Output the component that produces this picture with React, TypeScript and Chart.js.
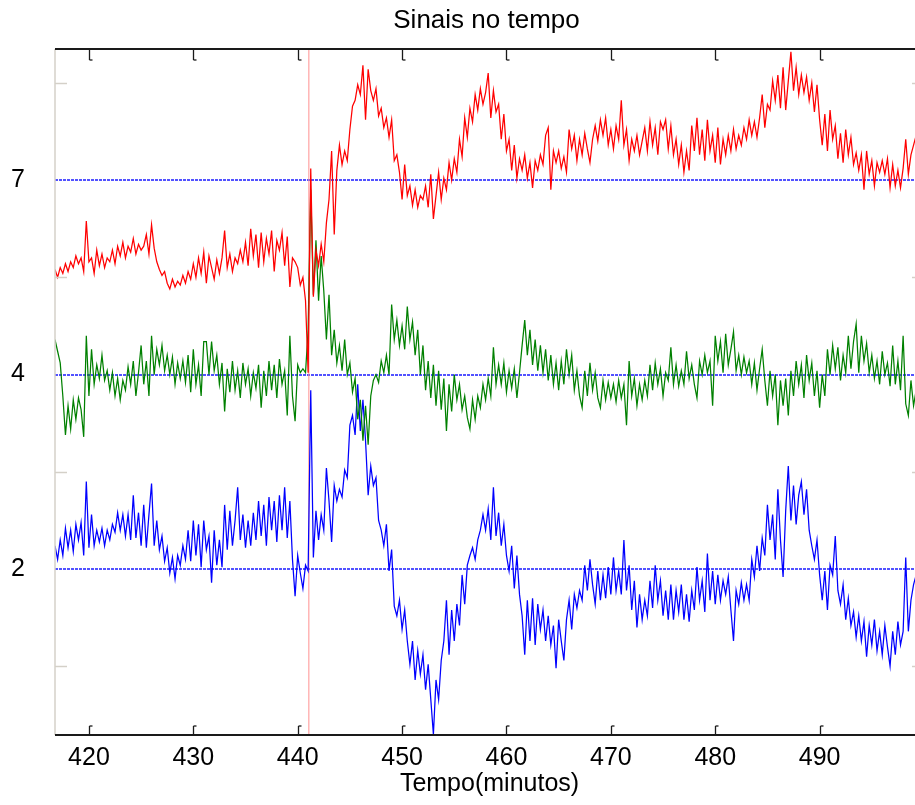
import React, { useEffect, useRef } from "react";
import { Chart, registerables } from "chart.js";

Chart.register(...registerables);

// ---- data ----
const TITLE = "Sinais no tempo";
const X_LABEL = "Tempo(minutos)";
const T0 = 416.75; // first sample time (minutes)
const DT = 0.25; // sampling interval (minutes)
const xMin = 416.75;
const xMax = 500;
const yMin = 0.147;
const yMax = 3.674;
const xTicks = [420, 430, 440, 450, 460, 470, 480, 490];
const yTickValues = [1, 2, 3];
const yTickLabels = ["2", "4", "7"];
const yMinorTicks = [0.5, 1.5, 2.5, 3.5];
const eventTime = 441.07;

const red = [
  2.54, 2.50, 2.55, 2.52, 2.57, 2.53, 2.58, 2.55, 2.61, 2.57, 2.60, 2.53,
  2.79, 2.58, 2.60, 2.52, 2.64, 2.56, 2.62, 2.55, 2.60,
  2.58, 2.64, 2.57, 2.66, 2.61, 2.68, 2.60, 2.66, 2.63, 2.70, 2.62, 2.67, 2.64,
  2.66, 2.72, 2.62, 2.77, 2.65, 2.58, 2.54, 2.51, 2.53,
  2.47, 2.44, 2.49, 2.45, 2.48, 2.46, 2.51, 2.47,
  2.53, 2.49, 2.57, 2.50, 2.60, 2.52, 2.63, 2.47, 2.61, 2.55, 2.49,
  2.59, 2.52, 2.60, 2.74, 2.55, 2.62, 2.53, 2.60, 2.57, 2.64,
  2.58, 2.68, 2.56, 2.75, 2.61,
  2.72, 2.55, 2.73, 2.58, 2.70, 2.62, 2.74, 2.53, 2.69, 2.64, 2.73, 2.56, 2.71, 2.45, 2.60, 2.58,
  2.55, 2.46, 2.50, 2.38, 2.01, 3.06, 2.40,
  2.64, 2.56, 2.67, 2.58, 2.78, 2.90, 3.15, 2.72, 3.05, 3.18,
  3.08, 3.15, 3.10, 3.26, 3.38, 3.41, 3.49, 3.44, 3.59, 3.31,
  3.57, 3.46, 3.41, 3.47, 3.33, 3.37, 3.27, 3.32, 3.22, 3.31,
  3.10, 3.13, 3.04, 2.90, 3.08, 2.92, 2.97, 2.87, 2.95, 2.86,
  2.92, 2.90, 2.97, 2.86, 3.03, 2.80, 2.92, 3.04, 2.90, 3.01,
  2.95, 3.09, 3.00, 3.11, 3.04, 3.21, 3.12, 3.32, 3.22, 3.37,
  3.30, 3.44, 3.36, 3.47, 3.39, 3.45, 3.55, 3.32, 3.46, 3.35,
  3.39, 3.21, 3.34, 3.15, 3.21, 3.05, 3.18, 3.01, 3.11, 3.05,
  3.13, 3.01, 3.09, 2.96, 3.10, 3.05, 3.13, 3.08, 3.23, 3.27,
  2.95, 3.15, 3.09, 3.15, 3.06, 3.12, 3.04, 3.26, 3.16, 3.23,
  3.10, 3.21, 3.13, 3.24, 3.16, 3.09, 3.21, 3.28, 3.20, 3.31,
  3.23, 3.32, 3.18, 3.26, 3.16, 3.28, 3.21, 3.41, 3.18, 3.26,
  3.10, 3.21, 3.15, 3.23, 3.13, 3.20, 3.27, 3.15, 3.30, 3.18,
  3.27, 3.13, 3.30, 3.26, 3.31, 3.16, 3.28, 3.13, 3.21, 3.08,
  3.18, 3.04, 3.15, 3.05, 3.28, 3.15, 3.32, 3.13, 3.26, 3.10,
  3.31, 3.15, 3.23, 3.09, 3.27, 3.08, 3.21, 3.13, 3.23, 3.15,
  3.26, 3.16, 3.23, 3.18, 3.27, 3.21, 3.31, 3.23, 3.30, 3.22,
  3.32, 3.44, 3.27, 3.39, 3.36, 3.51, 3.41, 3.54, 3.37, 3.58,
  3.36, 3.51, 3.66, 3.46, 3.58, 3.44, 3.54, 3.45, 3.53, 3.41,
  3.50, 3.35, 3.49, 3.31, 3.18, 3.34, 3.15, 3.36, 3.21, 3.28,
  3.11, 3.24, 3.09, 3.26, 3.13, 3.22, 3.08, 3.14, 3.05, 3.13,
  2.95, 3.15, 3.03, 3.10, 2.97, 3.09, 3.04, 3.10, 3.03, 3.11,
  2.96, 3.08, 2.97, 3.05, 2.96, 3.06, 3.21, 3.03, 3.13, 3.18,
  3.23, 3.20, 3.25, 3.22,
];

const green = [
  2.18, 2.12, 2.06, 1.89, 1.69, 1.84, 1.72, 1.87, 1.77, 1.88, 1.82, 1.68,
  2.20, 1.89, 2.13, 1.95, 2.05, 1.98, 2.10, 1.97, 2.02, 1.92,
  2.01, 1.89, 1.98, 1.87, 1.97, 1.92, 2.04, 1.95, 2.07, 1.89,
  2.01, 2.15, 1.95, 2.07, 1.89, 2.20, 2.00, 2.13, 2.05, 2.15,
  2.02, 2.10, 2.00, 2.09, 1.95, 2.06, 1.98, 2.07, 1.96, 2.10,
  1.91, 2.13, 1.95, 2.05, 1.89, 2.17,
  2.17, 2.00, 2.17, 2.02, 2.10, 1.95, 2.06, 1.81, 2.03, 1.91,
  2.07, 1.92, 2.02, 1.88, 2.06, 1.95, 2.03, 1.89, 2.01, 1.93,
  2.05, 1.83, 2.02, 1.89, 2.07, 1.92, 2.05, 1.88, 2.08, 1.95,
  2.02, 1.79, 2.20, 1.89, 1.76, 2.05, 2.01, 2.03,
  2.01, 2.23, 2.95, 2.41,
  2.69, 2.38, 2.61, 2.43, 2.18, 2.41, 2.10, 2.23, 2.06, 2.15,
  2.02, 2.18, 2.00, 2.06, 1.91, 1.98, 1.77, 1.87, 1.66, 1.84,
  1.64, 1.89, 1.97, 2.00, 1.96, 2.07, 2.01, 2.10, 2.00, 2.36,
  2.18, 2.28, 2.15, 2.25, 2.13, 2.35, 2.18, 2.27, 2.10, 2.23,
  2.00, 2.15, 1.92, 2.07, 1.88, 2.05, 1.84, 2.02, 1.82, 1.98,
  1.71, 1.95, 1.81, 2.00, 1.87, 1.95, 1.82, 1.89, 1.78, 1.72,
  1.87, 1.77, 1.89, 1.83, 1.95, 1.87, 1.98, 1.89, 2.14, 1.95,
  2.05, 1.95, 2.06, 1.91, 2.02, 1.93, 2.03, 1.88, 2.01, 2.15,
  2.28, 2.10, 2.23, 2.05, 2.18, 2.02, 2.15, 2.01, 2.13, 1.97,
  2.10, 1.95, 2.06, 1.92, 2.07, 1.95, 2.13, 2.00, 2.10, 1.92,
  2.02, 1.89, 1.83, 2.02, 1.89, 2.06, 1.92, 2.01, 1.88, 1.83,
  1.97, 1.87, 1.96, 1.88, 1.95, 1.86, 1.97, 1.88, 1.95, 1.74,
  2.07, 1.89, 1.98, 1.84, 1.95, 1.87, 1.97, 1.89, 2.05, 1.92,
  2.06, 1.95, 2.03, 1.89, 2.01, 1.97, 2.14, 1.95, 2.05, 1.94,
  2.02, 1.95, 2.12, 1.98, 2.05, 1.95, 1.88, 2.07, 2.00, 2.10,
  2.01, 2.07, 1.84, 2.20, 2.07, 2.17, 2.01, 2.21, 2.05, 2.13,
  2.22, 2.02, 2.10, 2.00, 2.09, 2.01, 2.07, 1.95, 2.06, 1.92,
  2.03, 2.13, 1.97, 1.84, 2.02, 1.89, 2.00, 1.74, 1.97, 1.84,
  1.98, 1.79, 2.02, 1.89, 2.07, 1.95, 2.05, 1.88, 2.10, 1.97,
  2.06, 1.89, 2.02, 1.83, 2.00, 1.89, 2.13, 2.00, 2.15, 2.03,
  2.14, 1.97, 2.10, 2.01, 2.20, 2.03, 2.17, 2.26, 2.01, 2.20,
  2.07, 2.16, 2.01, 2.10, 1.98, 2.07, 1.95, 2.12, 2.00, 2.06,
  1.94, 2.15, 1.95, 2.07, 1.92, 2.20, 1.85, 1.79, 1.97, 1.84,
  1.92, 1.88, 1.95, 1.90,
];

const blue = [
  1.12, 1.05, 1.15, 1.07, 1.21, 1.11, 1.20, 1.09, 1.23, 1.15, 1.24, 1.07,
  1.45, 1.11, 1.28, 1.12, 1.20, 1.14, 1.21, 1.12, 1.20, 1.15,
  1.23, 1.19, 1.29, 1.20, 1.28, 1.17, 1.28, 1.15, 1.38, 1.16,
  1.29, 1.12, 1.33, 1.11, 1.28, 1.44, 1.12, 1.25, 1.10, 1.17,
  1.04, 1.11, 0.98, 1.06, 0.95, 1.07, 1.02, 1.12, 1.05, 1.20,
  1.04, 1.25, 1.07, 1.23, 1.01, 1.25, 1.10, 1.17, 0.93, 1.20,
  1.02, 1.15, 1.01, 1.33, 1.10, 1.30, 1.12, 1.25, 1.42, 1.15,
  1.28, 1.11, 1.25, 1.12, 1.29, 1.15, 1.35, 1.17, 1.33, 1.12,
  1.37, 1.20, 1.35, 1.14, 1.38, 1.20, 1.42, 1.16, 1.35, 1.05,
  0.86, 1.07, 0.98, 0.90, 1.02,
  0.99, 1.92, 1.06,
  1.30, 1.15, 1.28, 1.20, 1.52, 1.35, 1.14, 1.43, 1.35, 1.41,
  1.37, 1.51, 1.47, 1.74, 1.79, 1.69, 1.95, 1.71, 1.87, 1.66,
  1.38, 1.53, 1.43, 1.47, 1.25, 1.20, 1.12, 1.23, 0.99, 1.10,
  0.81, 0.76, 0.84, 0.69, 0.79, 0.63, 0.51, 0.63, 0.43, 0.58,
  0.46, 0.56, 0.38, 0.51, 0.33, 0.15, 0.43, 0.33, 0.53, 0.63,
  0.84, 0.56, 0.79, 0.63, 0.82, 0.71, 0.97, 0.82, 1.02, 1.07,
  1.11, 1.05, 1.15, 1.20, 1.28, 1.20, 1.31, 1.15, 1.42, 1.17,
  1.29, 1.12, 1.23, 1.07, 0.99, 1.12, 0.90, 1.07, 0.87, 0.76,
  0.56, 0.84, 0.63, 0.85, 0.61, 0.82, 0.69, 0.79, 0.63, 0.76,
  0.61, 0.71, 0.49, 0.74, 0.63, 0.53, 0.74, 0.84, 0.69, 0.87,
  0.80, 0.89, 0.84, 1.02, 0.89, 1.05, 0.92, 0.82, 0.99, 0.84,
  0.97, 0.85, 1.01, 0.87, 1.06, 0.89, 0.99, 0.87, 1.15, 0.89,
  1.02, 0.79, 0.94, 0.70, 0.87, 0.74, 0.84, 0.76, 0.94, 0.80,
  1.02, 0.84, 0.94, 0.76, 0.89, 0.74, 0.92, 0.74, 0.89, 0.78,
  0.92, 0.74, 0.87, 0.73, 0.89, 0.79, 1.01, 0.84, 0.94, 0.78,
  1.08, 0.84, 0.99, 0.82, 0.97, 0.84, 0.94, 0.87, 0.96, 0.79,
  0.63, 0.89, 0.82, 0.93, 0.84, 0.92, 0.84, 1.05, 0.96, 1.12,
  0.99, 1.16, 1.07, 1.33, 1.15, 1.28, 1.05, 1.41, 1.15, 0.96,
  1.30, 1.53, 1.25, 1.43, 1.23, 1.38, 1.45, 1.28, 1.41, 1.20,
  1.12, 1.05, 1.15, 0.97, 0.84, 0.99, 0.79, 1.02, 0.97, 1.17,
  0.89, 0.82, 0.92, 0.74, 0.85, 0.71, 0.78, 0.65, 0.76, 0.63,
  0.73, 0.55, 0.71, 0.61, 0.74, 0.58, 0.68, 0.56, 0.71, 0.60,
  0.50, 0.68, 0.56, 0.73, 0.61, 0.68, 1.06, 0.68, 0.84, 0.92,
  0.97, 0.95, 1.00, 0.96,
];

const FONT = '"Liberation Sans", Arial, Helvetica, sans-serif';

const framePlugin = {
  id: "matlabFrame",
  beforeDatasetsDraw(chart: any) {
    const { ctx, chartArea, scales } = chart;
    const { left, right } = chartArea;
    ctx.save();
    ctx.strokeStyle = "#1a1aff";
    ctx.lineWidth = 1.5;
    ctx.setLineDash([3, 1]);
    for (const v of yTickValues) {
      const py = Math.round(scales.y.getPixelForValue(v));
      ctx.beginPath();
      ctx.moveTo(left, py);
      ctx.lineTo(right, py);
      ctx.stroke();
    }
    ctx.restore();
  },
  afterDraw(chart: any) {
    const { ctx, chartArea, scales } = chart;
    const { left, right, top, bottom } = chartArea;
    const line = (x1: number, y1: number, x2: number, y2: number) => {
      ctx.beginPath();
      ctx.moveTo(x1, y1);
      ctx.lineTo(x2, y2);
      ctx.stroke();
    };
    ctx.save();
    // left axis (light grey)
    ctx.strokeStyle = "#d4d0c8";
    ctx.lineWidth = 1.5;
    line(left, top, left, bottom);
    // minor y ticks (grey, pointing inward) on both sides
    for (const v of yMinorTicks) {
      const py = Math.round(scales.y.getPixelForValue(v)) + 0.5;
      line(left, py, left + 12, py);
      line(right, py, right - 12, py);
    }
    // top and bottom frame lines
    ctx.strokeStyle = "#1a1a1a";
    ctx.lineWidth = 2;
    line(left, top, right, top);
    line(left, bottom, right, bottom);
    // x ticks, inward
    ctx.lineWidth = 1.3;
    for (const t of xTicks) {
      const px = Math.round(scales.x.getPixelForValue(t)) + 0.5;
      line(px, top, px, top + 11);
      line(px, top + 11, px + 3, top + 11);
      line(px, bottom, px, bottom - 9);
      line(px, bottom - 9, px + 3, bottom - 9);
    }
    // title
    ctx.fillStyle = "#000";
    ctx.font = `26px ${FONT}`;
    ctx.textAlign = "center";
    ctx.textBaseline = "middle";
    ctx.fillText(TITLE, (left + right) / 2 - 3, 21);
    ctx.restore();
  },
};

export default function App() {
  const ref = useRef<HTMLCanvasElement>(null);

  useEffect(() => {
    const canvas = ref.current;
    if (!canvas) return;
    Chart.defaults.font.family = FONT;
    const toPts = (vals: number[]) => vals.map((v, i) => ({ x: T0 + i * DT, y: v }));
    const lineDs = (label: string, vals: number[], color: string) => ({
      label,
      data: toPts(vals),
      borderColor: color,
      backgroundColor: color,
      borderWidth: 1.25,
      pointRadius: 0,
      tension: 0,
      fill: false,
    });
    const chart = new Chart(canvas, {
      type: "line",
      data: {
        datasets: [
          lineDs("7", red, "#ff0000"),
          lineDs("4", green, "#008000"),
          lineDs("2", blue, "#0000ff"),
          {
            label: "evento",
            data: [
              { x: eventTime, y: yMin },
              { x: eventTime, y: yMax },
            ],
            borderColor: "#ff9090",
            borderWidth: 1,
            pointRadius: 0,
            fill: false,
          },
        ],
      },
      options: {
        responsive: false,
        animation: false,
        devicePixelRatio: 1,
        layout: { padding: { top: 49, right: 11, left: 0, bottom: 0 } },
        plugins: {
          legend: { display: false },
          title: { display: false },
          tooltip: { enabled: false },
        },
        scales: {
          x: {
            type: "linear",
            min: xMin,
            max: xMax,
            afterBuildTicks: (s: any) => {
              s.ticks = xTicks.map((v) => ({ value: v }));
            },
            afterFit: (s: any) => {
              s.height = 70;
            },
            grid: { display: false, drawTicks: false },
            border: { display: false },
            ticks: {
              font: { size: 25 },
              color: "#000",
              padding: 8,
              maxRotation: 0,
              autoSkip: false,
              callback: (v: any) => String(v),
            },
            title: {
              display: true,
              text: X_LABEL,
              font: { size: 25 },
              color: "#000",
              padding: { top: 0, bottom: 6 },
            },
          },
          y: {
            type: "linear",
            min: yMin,
            max: yMax,
            afterBuildTicks: (s: any) => {
              s.ticks = yTickValues.map((v) => ({ value: v }));
            },
            afterFit: (s: any) => {
              s.width = 55;
            },
            grid: { display: false, drawTicks: false },
            border: { display: false },
            ticks: {
              font: { size: 25 },
              color: "#000",
              padding: 30,
              autoSkip: false,
              callback: (v: any) => {
                const k = yTickValues.indexOf(Number(v));
                return k >= 0 ? yTickLabels[k] : "";
              },
            },
          },
        },
      } as any,
      plugins: [framePlugin],
    });
    return () => chart.destroy();
  }, []);

  return (
    <div
      style={{
        position: "fixed",
        left: 0,
        top: 0,
        width: 915,
        height: 805,
        overflow: "hidden",
        background: "#fff",
      }}
    >
      <canvas ref={ref} width={935} height={805} style={{ display: "block" }} />
    </div>
  );
}
